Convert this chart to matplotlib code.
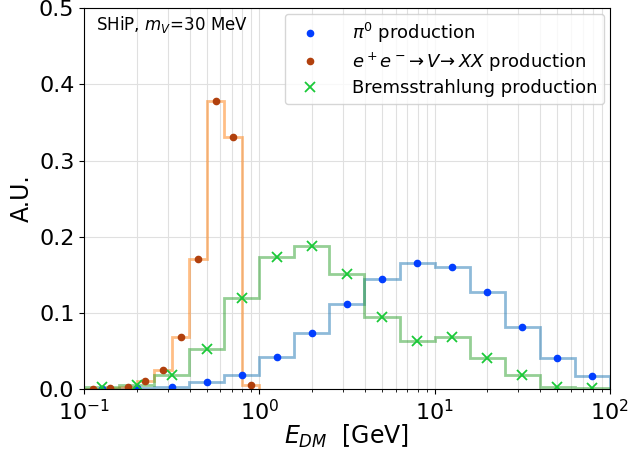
import numpy as np
import matplotlib
matplotlib.use("Agg")
import matplotlib.pyplot as plt

# log10 bin edges of the two binnings
wide_edges = np.logspace(-1, 2, 16)
fine_edges = np.logspace(-1, 0, 11)

pi0 = [0.0, 0.001, 0.003, 0.009, 0.019, 0.042, 0.074, 0.112, 0.145, 0.166,
       0.160, 0.127, 0.081, 0.041, 0.017]
ee = [0.0, 0.002, 0.003, 0.011, 0.025, 0.069, 0.171, 0.378, 0.331, 0.006]
brems = [0.003, 0.006, 0.018, 0.053, 0.120, 0.173, 0.188, 0.151, 0.094, 0.063,
         0.069, 0.041, 0.018, 0.003, 0.001]

labels = [r"$\pi^0$ production",
          r"$e^+e^-\!\rightarrow V\!\rightarrow XX$ production",
          "Bremsstrahlung production"]


def centers(edges):
    return np.sqrt(edges[:-1] * edges[1:])


fig, ax = plt.subplots(figsize=(6.28, 4.54), dpi=100)
fig.subplots_adjust(left=0.134, right=0.971, top=0.982, bottom=0.143)

ax.stairs(pi0, wide_edges, color="tab:blue", alpha=0.5, lw=2)
ax.stairs(ee, fine_edges, color="tab:orange", alpha=0.5, lw=2)
ax.stairs(brems, wide_edges, color="tab:green", alpha=0.5, lw=2)

ax.plot(centers(wide_edges), pi0, "o", color="#023eff", ms=4.5, label=labels[0])
ax.plot(centers(fine_edges), ee, "o", color="#b1400d", ms=4.5, label=labels[1])
ax.plot(centers(wide_edges), brems, "x", color="#1ac938", ms=7, mew=1.3,
        label=labels[2])

ax.set_xscale("log")
ax.set_xlim(0.1, 100)
ax.set_ylim(0, 0.5)
ax.set_yticks([0.0, 0.1, 0.2, 0.3, 0.4, 0.5])
ax.grid(True, which="major", color="#e0e0e0", lw=0.8)
ax.grid(True, which="minor", axis="x", color="#e0e0e0", lw=0.8)
ax.set_axisbelow(True)
ax.tick_params(labelsize=16)

ax.set_xlabel(r"$E_{DM}$  [GeV]", fontsize=17, labelpad=-1)
ax.set_ylabel("A.U.", fontsize=17)
ax.text(0.022, 0.985, r"SHiP, $m_V\!=\!30$ MeV", transform=ax.transAxes,
        fontsize=12, va="top", ha="left")
ax.legend(loc="upper right", fontsize=13, handletextpad=1.3,
          labelspacing=0.3, borderaxespad=0.3)

fig.savefig("out.png", dpi=100)
